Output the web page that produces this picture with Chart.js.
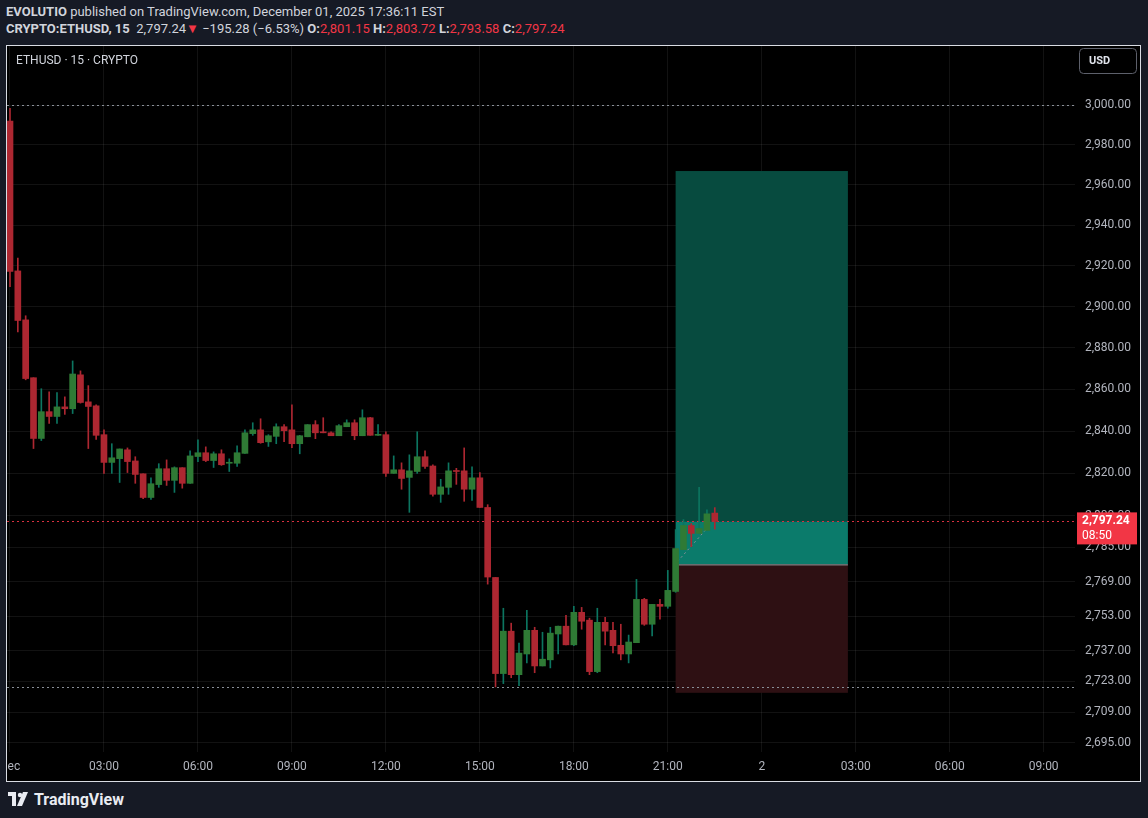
<!DOCTYPE html>
<html><head><meta charset="utf-8">
<script src="https://cdn.jsdelivr.net/npm/chart.js@4/dist/chart.umd.min.js"></script>
<style>
html,body{margin:0;padding:0;background:#161a25;width:1148px;height:818px;overflow:hidden;font-family:"Roboto",sans-serif;color:#d1d4dc}
#h1{position:absolute;left:6px;top:4px;font-size:13px;white-space:nowrap}
#h2{position:absolute;left:6px;top:21px;font-size:13px;white-space:nowrap}
b{font-weight:bold}
.r{color:#f23645}
#panel{position:absolute;left:6px;top:45px;width:1133px;height:735px;border:1px solid #d9dce3;background:#000}
#c{position:absolute;left:0;top:0}
#foot{position:absolute;left:8px;top:789px;height:20px;display:flex;align-items:center;font-family:Roboto,sans-serif;font-weight:bold;font-size:16px;color:#e9ecf2}
</style></head><body>
<div id="h1"><b>EVOLUTIO</b> published on TradingView.com, December 01, 2025 17:36:11 EST</div>
<div id="h2"><b>CRYPTO:ETHUSD, 15</b>&nbsp; 2,797.24<span class="r">▼</span> −195.28 (−6.53%) <b>O:</b><span class="r">2,801.15</span> <b>H:</b><span class="r">2,803.72</span> <b>L:</b><span class="r">2,793.58</span> <b>C:</b><span class="r">2,797.24</span></div>
<div id="panel"><canvas id="c" width="1133" height="735"></canvas></div>
<div id="foot"><svg width="22" height="14" viewBox="0 0 22 14"><rect x="0" y="0" width="8" height="4" fill="#e9ecf2"/><rect x="4" y="0" width="4" height="14" fill="#e9ecf2"/><circle cx="12" cy="3" r="2.2" fill="#e9ecf2"/><polygon points="15,0 20,0 14,14 9,14" fill="#e9ecf2"/></svg>&nbsp;TradingView</div>
<script>
const opens=[2991.9,2917.5,2893.6,2865.6,2836.5,2849.3,2847.0,2851.6,2850.7,2867.0,
2854.0,2852.1,2838.3,2825.1,2826.9,2831.1,2825.8,2819.7,2808.5,2814.6,
2822.1,2816.6,2822.6,2815.2,2827.9,2829.7,2826.0,2829.2,2824.7,2824.7,
2829.4,2838.8,2840.6,2834.9,2837.5,2842.1,2840.6,2834.0,2837.3,2843.1,
2839.7,2839.2,2837.8,2842.1,2844.0,2837.8,2846.4,2838.0,2838.3,2819.9,
2821.6,2818.0,2820.8,2827.8,2823.4,2810.0,2813.3,2821.1,2821.1,2812.4,
2817.8,2803.8,2771.0,2726.6,2746.1,2726.1,2735.6,2746.5,2730.1,2732.9,
2744.8,2748.4,2739.8,2754.8,2751.2,2727.5,2750.2,2746.5,2739.6,2735.6,
2740.8,2760.8,2749.3,2758.5,2757.6,2764.5,2784.0,2795.3,2791.6,2793.0,2801.15];
const highs=[2998.3,2923.8,2895.6,2865.6,2860.3,2858.8,2858.4,2856.4,2873.7,2868.9,
2861.8,2852.6,2840.6,2834.0,2831.5,2832.0,2827.8,2819.7,2817.8,2824.5,
2826.3,2823.0,2822.6,2830.6,2835.9,2832.5,2830.1,2831.1,2826.8,2833.0,
2840.6,2844.0,2845.9,2838.3,2843.5,2843.1,2852.6,2838.0,2843.1,2845.0,
2846.4,2839.7,2843.1,2845.4,2845.4,2850.2,2846.6,2843.1,2839.7,2828.2,
2824.9,2828.7,2839.7,2830.6,2824.0,2817.1,2824.9,2822.3,2832.0,2823.0,
2820.3,2805.1,2771.0,2756.7,2749.8,2740.6,2755.7,2747.9,2745.6,2747.9,
2748.4,2753.4,2757.6,2757.1,2752.1,2756.7,2752.5,2750.2,2749.3,2744.3,
2770.1,2761.3,2758.5,2760.8,2774.3,2793.4,2798.1,2796.2,2813.3,2802.7,2803.72];
const lows=[2909.8,2887.7,2864.6,2831.7,2835.5,2843.7,2843.7,2848.0,2848.4,2853.4,
2831.7,2836.0,2819.9,2819.9,2815.6,2820.3,2815.2,2808.0,2807.6,2813.3,
2814.2,2810.9,2812.9,2815.2,2825.5,2825.5,2822.7,2823.7,2820.8,2823.2,
2829.4,2838.0,2834.2,2832.7,2834.0,2835.0,2832.1,2829.2,2837.3,2836.4,
2839.2,2837.8,2837.8,2842.1,2835.9,2837.8,2838.0,2838.0,2818.5,2819.9,
2812.4,2801.5,2819.9,2822.3,2809.1,2806.2,2810.0,2814.7,2806.7,2807.1,
2803.8,2767.9,2720.5,2722.0,2724.7,2721.1,2731.5,2727.0,2730.1,2729.2,
2735.6,2739.8,2739.4,2747.0,2726.1,2727.0,2739.8,2736.1,2732.9,2731.5,
2740.8,2748.8,2743.9,2751.6,2756.7,2764.1,2784.0,2785.4,2791.6,2793.0,2793.58];
const closes=[2917.2,2893.3,2865.2,2836.5,2849.3,2847.0,2851.6,2850.7,2867.4,2853.7,
2851.8,2838.0,2825.1,2827.3,2831.5,2825.5,2819.4,2808.5,2815.0,2822.1,
2816.6,2822.6,2815.2,2828.2,2829.7,2826.0,2829.2,2824.0,2825.1,2829.7,
2839.2,2840.6,2834.5,2837.8,2842.1,2840.2,2834.0,2837.8,2843.1,2839.2,
2839.2,2837.8,2842.6,2844.0,2837.8,2846.4,2838.0,2838.3,2819.9,2821.6,
2817.5,2821.1,2827.8,2823.2,2810.0,2813.5,2821.1,2820.8,2812.4,2817.8,
2803.8,2771.2,2726.6,2746.1,2726.1,2736.0,2746.5,2730.1,2733.2,2745.2,
2748.4,2739.8,2754.8,2750.7,2727.5,2750.2,2746.1,2739.4,2735.6,2741.1,
2760.8,2749.3,2758.5,2757.6,2765.0,2784.5,2795.3,2791.6,2793.9,2800.8,2797.24];
const priceTicks=[3000,2980,2960,2940,2920,2900,2880,2860,2840,2820,2800,2785,2769,2753,2737,2723,2709,2695];
const timeTickIdx=[0,12,24,36,48,60,72,84,96,108,120,132];
const timeTickLabels=['Dec','03:00','06:00','09:00','12:00','15:00','18:00','21:00','2','03:00','06:00','09:00'];
const lastPrice=2797.24, countdown='08:50';
const highLine=3000, lowLine=2720.5;
const pos={start:85,end:107,target:2966.9,entry:2777.1,stop:2717.8};

const GREEN='#2f7a35', GWICK='#0c7560', RED='#ad2731';
const GRID='rgba(255,255,255,0.07)';
const idx=opens.map((_,i)=>i);
const up=idx.map(i=>closes[i]>=opens[i]);
const wicks=idx.map(i=>({x:i,y:[lows[i],highs[i]]}));
const bodies=idx.map(i=>({x:i,y:[Math.min(opens[i],closes[i]),Math.max(opens[i],closes[i])]}));
const fmt=v=>v.toLocaleString('en-US',{minimumFractionDigits:2,maximumFractionDigits:2});

const bg={id:'bg',beforeDatasetsDraw(c){
 const {ctx,scales:{x,y},chartArea:a}=c;
 ctx.save();ctx.beginPath();ctx.rect(a.left,a.top,a.right-a.left,a.bottom-a.top);ctx.clip();
 const x0=x.getPixelForValue(pos.start),x1=x.getPixelForValue(pos.end);
 const yt=y.getPixelForValue(pos.target),ye=y.getPixelForValue(pos.entry),ys=y.getPixelForValue(pos.stop),yc=y.getPixelForValue(lastPrice);
 ctx.fillStyle='#074b3f';ctx.fillRect(x0,yt,x1-x0,yc-yt);
 ctx.fillStyle='#0b7b6b';ctx.fillRect(x0,yc,x1-x0,ye-yc);
 ctx.fillStyle='#2e1013';ctx.fillRect(x0,ye,x1-x0,ys-ye);
 ctx.strokeStyle='#9aa0a6';ctx.lineWidth=1;ctx.beginPath();ctx.moveTo(x0,ye+0.5);ctx.lineTo(x1,ye+0.5);ctx.stroke();
 ctx.setLineDash([2,3]);ctx.strokeStyle='#8a8f98';
 [highLine,lowLine].forEach(v=>{const yy=Math.round(y.getPixelForValue(v))+0.5;ctx.beginPath();ctx.moveTo(a.left,yy);ctx.lineTo(a.right,yy);ctx.stroke();});
 ctx.beginPath();ctx.moveTo(x0+2,ye-3);ctx.lineTo(x.getPixelForValue(89.5),y.getPixelForValue(2796));ctx.stroke();
 ctx.strokeStyle='#d9303f';const yl=Math.round(yc)+0.5;ctx.beginPath();ctx.moveTo(a.left,yl);ctx.lineTo(a.right,yl);ctx.stroke();
 ctx.restore();
}};
const over={id:'over',afterDraw(c){
 const {ctx,scales:{x,y},chartArea:a}=c;
 ctx.save();
 ctx.font='12px Roboto, sans-serif';ctx.fillStyle='#b2b5be';ctx.textAlign='center';ctx.textBaseline='middle';
 ctx.beginPath();ctx.rect(a.left,a.bottom,a.right-a.left,40);ctx.clip();
 timeTickIdx.forEach((t,k)=>ctx.fillText(timeTickLabels[k],x.getPixelForValue(t),a.bottom+15));
 ctx.restore();ctx.save();
 const yc=y.getPixelForValue(lastPrice);
 ctx.fillStyle='#f23645';ctx.fillRect(a.right+2,yc-9,60,32);
 ctx.fillStyle='#fff';ctx.font='bold 12px Roboto, sans-serif';ctx.textBaseline='middle';ctx.textAlign='left';
 ctx.fillText(fmt(lastPrice),a.right+7,yc);
 ctx.font='12px Roboto, sans-serif';ctx.fillText(countdown,a.right+7,yc+15);
 ctx.strokeStyle='#5d606b';ctx.lineWidth=1;ctx.beginPath();ctx.roundRect(a.right+4.5,2.5,57,25,4);ctx.stroke();
 ctx.fillStyle='#e0e3eb';ctx.font='bold 11px Roboto, sans-serif';ctx.fillText('USD',a.right+14,15);
 ctx.fillStyle='#d1d4dc';ctx.font='12px Roboto, sans-serif';ctx.fillText('ETHUSD · 15 · CRYPTO',9,15);
 ctx.restore();
}};
new Chart(document.getElementById('c'),{
 type:'bar',
 data:{datasets:[
  {data:wicks,backgroundColor:idx.map(i=>up[i]?GWICK:RED),barThickness:1,minBarLength:1,grouped:false,order:2},
  {data:bodies,backgroundColor:idx.map(i=>up[i]?GREEN:RED),barThickness:6,minBarLength:1,grouped:false,order:1}
 ]},
 options:{responsive:false,animation:false,devicePixelRatio:1,
  layout:{padding:0},
  plugins:{legend:{display:false},tooltip:{enabled:false}},
  scales:{
   x:{type:'linear',min:-0.383,max:136.0,offset:false,
      grid:{color:GRID,drawTicks:false,offset:false},border:{display:false},
      ticks:{display:false},
      afterBuildTicks:s=>{s.ticks=timeTickIdx.map(v=>({value:v}));},
      afterFit:s=>{s.height=29;s.paddingLeft=0;s.paddingRight=0;}},
   y:{type:'logarithmic',position:'right',min:2690.9,max:3029.9,
      grid:{color:GRID,drawTicks:false},border:{display:false},
      ticks:{color:'#b2b5be',font:{family:'Roboto',size:12},padding:10,callback:v=>fmt(v)},
      afterBuildTicks:s=>{s.ticks=priceTicks.map(v=>({value:v}));},
      afterFit:s=>{s.width=65;s.paddingTop=0;s.paddingBottom=0;}}
  }},
 plugins:[bg,over]
});
</script></body></html>
